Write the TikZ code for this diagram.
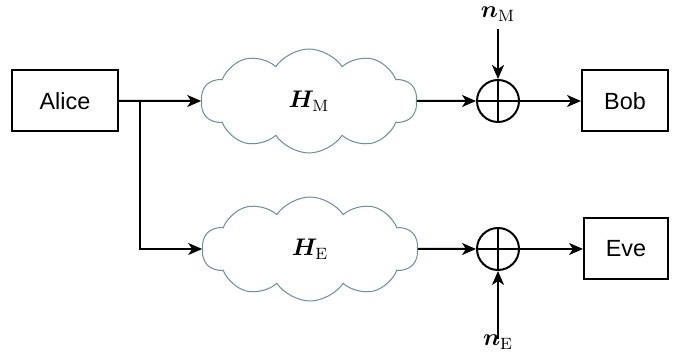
\documentclass[tikz,border=0pt]{standalone}
\usepackage{amsmath,bm}
\usepackage{fontspec}
\newfontfamily\helv{Liberation Sans}
\usetikzlibrary{arrows.meta,shapes.symbols}
\definecolor{cloudline}{RGB}{108,142,152}

\begin{document}
\begin{tikzpicture}[
x=0.5pt, y=-0.5pt,
line width=1pt,
>={Stealth[length=7pt,width=6pt,inset=2pt]},
every node/.append style={font=\fontsize{11.7}{14}\selectfont},
boxnode/.style={rectangle, draw, minimum height=30.5pt, font=\helv\fontsize{11.7}{14}\selectfont},
cloudnode/.style={cloud, draw=cloudline, line width=0.5pt, cloud puffs=10, cloud puff arc=112,
  cloud ignores aspect, minimum width=108pt, minimum height=52pt, inner sep=0pt},
sumnode/.style={circle, draw, minimum size=21pt, inner sep=0pt,
  path picture={\draw (path picture bounding box.north) -- (path picture bounding box.south)
    (path picture bounding box.west) -- (path picture bounding box.east);}}]
\useasboundingbox (0,0) rectangle (680,356);
% Nodes
\node[boxnode, minimum width=53pt] (alice) at (65,101) {Alice};
\node[cloudnode] (hm) at (309,101) {$\boldsymbol{H}_{\mathrm{M}}$};
\node[sumnode] (pm) at (498,101) {};
\node[boxnode, minimum width=43pt] (bob) at (625,101) {Bob};
\node (nm) at (498,14) {$\boldsymbol{n}_{\mathrm{M}}$};
\node[cloudnode] (he) at (310,249) {$\boldsymbol{H}_{\mathrm{E}}$};
\node[sumnode] (pe) at (498,249) {};
\node[boxnode, minimum width=42pt] (eve) at (626,249) {Eve};
\node (ne) at (498,342) {$\boldsymbol{n}_{\mathrm{E}}$};
\coordinate (split) at (140,101);
% Lines
\draw[arrows={->}] (alice) -- (hm);
\draw[arrows={->}] (split) |- (he);
\draw[arrows={->}] (hm) -- (pm);
\draw[arrows={->}] (pm) -- (bob);
\draw[arrows={->}] (nm) -- (pm);
\draw[arrows={->}] (he) -- (pe);
\draw[arrows={->}] (pe) -- (eve);
\draw[arrows={->}, shorten <=-6pt] (ne) -- (pe);
\end{tikzpicture}
\end{document}
